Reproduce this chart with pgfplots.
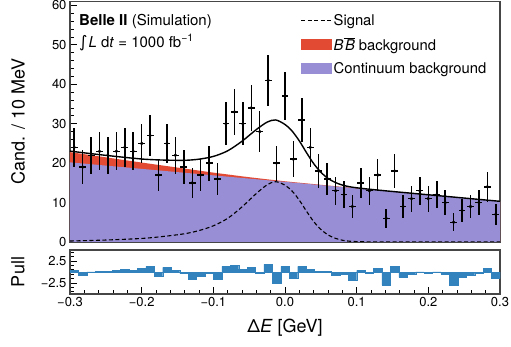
\documentclass[border=0pt]{standalone}
\usepackage{pgfplots}
\pgfplotsset{compat=1.18}
\usepackage{pgfplotstable}
\usepackage{fontspec}
\setmainfont{TeX Gyre Heros}
\newfontfamily\djv{DejaVu Sans}
\definecolor{bbred}{RGB}{227,74,51}
\definecolor{contpurple}{RGB}{152,142,213}
\definecolor{pullblue}{RGB}{49,130,189}
\definecolor{axgray}{RGB}{70,70,70}

\pgfplotstableread{
x y ey
-0.294118 24 4.899
-0.282353 19 4.359
-0.270588 22 4.690
-0.258824 23 4.796
-0.247059 22 4.690
-0.235294 23 4.796
-0.223529 24 4.899
-0.211765 23 4.796
-0.200000 25 5.000
-0.188235 27 5.196
-0.176471 17 4.123
-0.164706 25 5.000
-0.152941 22 4.690
-0.141176 19 4.359
-0.129412 15 3.873
-0.117647 17 4.123
-0.105882 20 4.472
-0.094118 16 4.000
-0.082353 30 5.477
-0.070588 33 5.745
-0.058824 30 5.477
-0.047059 34 5.831
-0.035294 28 5.292
-0.023529 41 6.403
-0.011765 20 4.472
0.000000 37 6.083
0.011765 21 4.583
0.023529 31 5.568
0.035294 24 4.899
0.047059 18 4.243
0.058824 16 4.000
0.070588 13 3.606
0.082353 12 3.464
0.094118 9 3.000
0.105882 15 3.873
0.117647 13 3.606
0.129412 17 4.123
0.141176 6 2.449
0.152941 18 4.243
0.164706 9 3.000
0.176471 11 3.317
0.188235 13 3.606
0.200000 11 3.317
0.211765 12 3.464
0.223529 10 3.162
0.235294 5 2.236
0.247059 8 2.828
0.258824 9 3.000
0.270588 10 3.162
0.282353 14 3.742
0.294118 7 2.646
}\datatab

\pgfplotstableread{
x cont bkgtop sig tot
-0.30 20.200 22.800 0.25 23.05
-0.25 19.375 21.475 0.50 21.975
-0.20 18.550 20.150 0.90 21.05
-0.17 18.055 19.385 1.40 20.785
-0.14 17.560 18.620 2.10 20.72
-0.12 17.230 18.110 2.90 21.01
-0.10 16.900 17.600 4.10 21.70
-0.08 16.570 17.130 6.00 23.13
-0.06 16.240 16.660 8.90 25.56
-0.04 15.910 16.220 12.30 28.52
-0.025 15.6625 15.9025 14.50 30.40
-0.013 15.4645 15.6645 15.30 30.96
0.00 15.250 15.400 14.40 29.80
0.01 15.085 15.215 12.90 28.115
0.02 14.920 15.040 10.60 25.64
0.03 14.755 14.865 7.80 22.665
0.04 14.590 14.690 5.20 19.89
0.05 14.425 14.505 3.20 17.705
0.06 14.260 14.330 1.80 16.13
0.07 14.095 14.160 0.95 15.11
0.08 13.930 13.990 0.45 14.44
0.09 13.765 13.820 0.20 14.02
0.10 13.600 13.650 0.10 13.75
0.12 13.270 13.315 0.03 13.345
0.15 12.775 12.815 0.00 12.815
0.20 11.950 11.980 0.00 11.98
0.25 11.125 11.150 0.00 11.15
0.30 10.300 10.320 0.00 10.32
}\modeltab

\pgfplotstableread{
x p
-0.300000 0.42
-0.288235 -0.73
-0.276471 0.05
-0.264706 0.10
-0.252941 0.10
-0.241176 0.40
-0.229412 0.65
-0.217647 0.40
-0.205882 0.90
-0.194118 1.30
-0.182353 -1.00
-0.170588 1.05
-0.158824 0.40
-0.147059 -0.30
-0.135294 -1.65
-0.123529 -1.00
-0.111765 -0.30
-0.100000 -1.65
-0.088235 1.30
-0.076471 1.50
-0.064706 0.65
-0.052941 1.05
-0.041176 -0.30
-0.029412 1.75
-0.017647 -2.60
-0.005882 1.30
0.005882 -1.45
0.017647 1.30
0.029412 0.55
0.041176 0.10
0.052941 0.10
0.064706 -0.65
0.076471 -0.45
0.088235 -1.90
0.100000 0.35
0.111765 -0.30
0.123529 0.80
0.135294 -3.00
0.147059 1.25
0.158824 -1.20
0.170588 -0.50
0.182353 0.05
0.194118 -0.30
0.205882 0.05
0.217647 -0.45
0.229412 -3.00
0.241176 -1.20
0.252941 -0.70
0.264706 -0.30
0.276471 0.80
0.288235 -1.40
0.300000 -1.40
}\pulltab

\begin{document}
\begin{tikzpicture}
\pgfplotsset{
  every axis/.append style={
    scale only axis, width=430pt,
    xmin=-0.3, xmax=0.3,
    axis line style={axgray, line width=1.3pt},
    tick style={black, line width=0.8pt},
    major tick length=7pt, minor tick length=4pt,
    tick align=inside, tick pos=left,
    tick label style={font=\fontsize{13}{15}\selectfont},
    /pgf/number format/assume math mode=true,
    xtick={-0.3,-0.2,-0.1,0,0.1,0.2,0.3},
    minor x tick num=4,
  }
}
\begin{axis}[
  name=main,
  height=240.5pt,
  ymin=0, ymax=61,
  ytick={0,10,20,30,40,50,60},
  minor y tick num=4,
  xticklabels={},
  ylabel={Cand. / 10 MeV},
  every axis y label/.style={at={(axis description cs:-0.121,0.5)}, rotate=90, anchor=center, font=\fontsize{18}{21}\selectfont},
  legend style={at={(rel axis cs:0.531,0.964)}, anchor=north west, draw=none, fill=none,
    font=\fontsize{14.8}{17}\selectfont, row sep=6.5pt, inner sep=2pt},
  legend cell align=left,
]
\addlegendimage{legend image code/.code={\draw[black, line width=1.1pt, dash pattern=on 4pt off 2.5pt] (0pt,0pt) -- (30pt,0pt);}}
\addlegendentry{Signal}
\addlegendimage{legend image code/.code={\fill[bbred] (0pt,-5pt) rectangle (30pt,5pt);}}
\addlegendentry{\textit{B}$\overline{\mbox{\kern1.5pt\textit{B}}}$ background}
\addlegendimage{legend image code/.code={\fill[contpurple] (0pt,-5pt) rectangle (30pt,5pt);}}
\addlegendentry{Continuum background}

\addplot[fill=bbred, draw=none, smooth, forget plot] table[x=x, y=bkgtop] {\modeltab} \closedcycle;
\addplot[fill=contpurple, draw=none, forget plot] table[x=x, y=cont] {\modeltab} \closedcycle;
\addplot[black, line width=1.1pt, dash pattern=on 4pt off 2.5pt, smooth, forget plot] table[x=x, y=sig] {\modeltab};
\addplot[black, line width=1.4pt, smooth, forget plot] table[x=x, y=tot] {\modeltab};
\addplot[black, only marks, mark=*, mark size=1.5pt, forget plot,
  error bars/.cd, y dir=both, y explicit, x dir=both, x fixed=0.0048,
  error bar style={line width=1.5pt, black}, error mark=none]
  table[x=x, y=y, y error=ey] {\datatab};

\node[anchor=west, inner sep=0pt, font=\fontsize{15}{18}\selectfont]
  at (rel axis cs:0.021,0.917) {\textbf{Belle II} (Simulation)};
\node[anchor=west, inner sep=0pt, font=\fontsize{15}{18}\selectfont]
  at (rel axis cs:0.021,0.830) {{\djv\fontsize{16}{18}\selectfont ∫}\kern1pt\textit{L} d\textit{t} = 1000 fb\textsuperscript{−1}};
\end{axis}

\begin{axis}[
  at={(main.south west)}, anchor=north west, yshift=-8pt,
  height=44pt,
  ymin=-5, ymax=5,
  ytick={-2.5,2.5},
  yticklabels={−2.5,2.5},
  minor ytick={-4.5,-3.5,-1.5,-0.5,0.5,1.5,3.5,4.5},
  xticklabels={−0.3,−0.2,−0.1,0.0,0.1,0.2,0.3},
  xlabel={Δ\textit{E} [GeV]},
  ylabel={Pull},
  every axis y label/.style={at={(axis description cs:-0.121,0.5)}, rotate=90, anchor=center, font=\fontsize{18}{21}\selectfont},
  every axis x label/.style={at={(axis description cs:0.5,-0.5)}, anchor=north, font=\fontsize{18}{21}\selectfont},
]
\addplot[ybar interval, fill=pullblue, draw=pullblue, line width=0.2pt] table[x=x, y=p] {\pulltab};
\addplot[pullblue, line width=0.8pt] coordinates {(-0.3,0) (0.3,0)};
\end{axis}

\pgfresetboundingbox
\path ([shift={(-70pt,1.5pt)}]main.north west) rectangle ([shift={(441pt,-344.5pt)}]main.north west);
\end{tikzpicture}
\end{document}
